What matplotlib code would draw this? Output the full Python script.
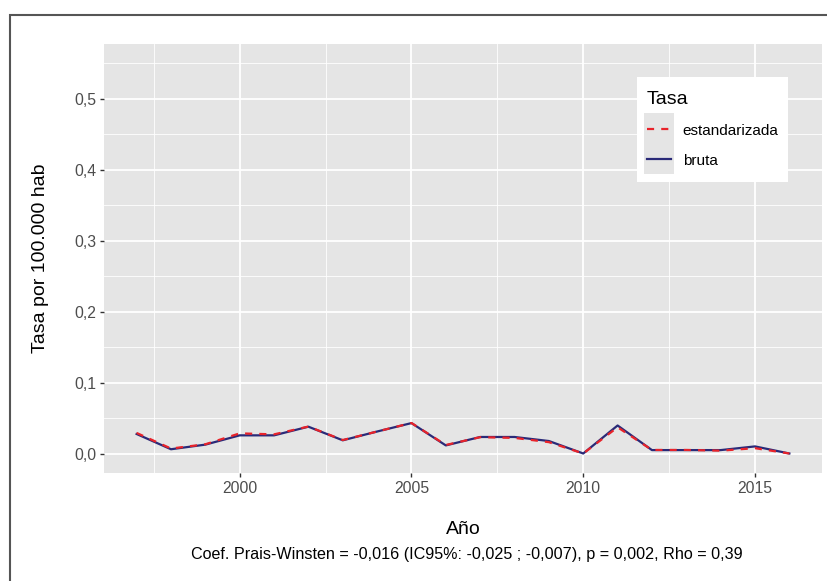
import numpy as np
from matplotlib import pyplot as plt
from matplotlib.patches import Rectangle
from matplotlib.lines import Line2D
from matplotlib.ticker import FixedLocator, FuncFormatter

plt.rcParams['font.family'] = ['Liberation Sans', 'DejaVu Sans']

anios = [1997, 1998, 1999, 2000, 2001, 2002, 2003, 2004, 2005, 2006,
         2007, 2008, 2009, 2010, 2011, 2012, 2013, 2014, 2015, 2016]
tasa_bruta = [0.0275, 0.006, 0.0125, 0.0256, 0.0256, 0.0378, 0.0186, 0.031, 0.0429, 0.0114,
              0.0233, 0.0233, 0.0176, 0.0, 0.0395, 0.0048, 0.0048, 0.0048, 0.010, 0.0]
tasa_estandarizada = [0.029, 0.007, 0.013, 0.0284, 0.027, 0.038, 0.019, 0.031, 0.043, 0.012,
                      0.023, 0.022, 0.016, 0.0, 0.037, 0.005, 0.005, 0.004, 0.0075, 0.0]

ticks_x = [2000, 2005, 2010, 2015]
ticks_y = [0.0, 0.1, 0.2, 0.3, 0.4, 0.5]
pie = "Coef. Prais-Winsten = -0,016 (IC95%: -0,025 ; -0,007), p = 0,002, Rho = 0,39"

col_bruta = "#2a2a78"
col_est = "#e8232a"
guiones = (0, (3.2, 3.2))

fig = plt.figure(figsize=(8.28, 5.81), dpi=100)
W, H = 828, 581
ax = fig.add_axes([104 / W, 1 - 473 / H, (822 - 104) / W, (473 - 44) / H])
ax.set_facecolor("#e5e5e5")
for s in ax.spines.values():
    s.set_visible(False)

ax.plot(anios, tasa_bruta, color=col_bruta, lw=1.6, label="bruta", zorder=3)
ax.plot(anios, tasa_estandarizada, color=col_est, lw=1.6, ls=guiones,
        label="estandarizada", zorder=4)

rango_x = anios[-1] - anios[0]
ax.set_xlim(anios[0] - 0.05 * rango_x, anios[-1] + 0.05 * rango_x)
ax.set_ylim(-0.0275, 0.5775)

ax.xaxis.set_major_locator(FixedLocator(ticks_x))
ax.xaxis.set_minor_locator(FixedLocator([1997.5, 2002.5, 2007.5, 2012.5]))
ax.yaxis.set_major_locator(FixedLocator(ticks_y))
ax.yaxis.set_minor_locator(FixedLocator([0.05, 0.15, 0.25, 0.35, 0.45, 0.55]))
ax.yaxis.set_major_formatter(FuncFormatter(lambda v, p: f"{v:.1f}".replace(".", ",")))

ax.grid(which="major", color="white", lw=1.3)
ax.grid(which="minor", color="white", lw=0.6)
ax.set_axisbelow(True)
ax.tick_params(which="major", length=3, width=1, color="#333333",
               labelsize=11.3, labelcolor="#4d4d4d", pad=2.5)
ax.tick_params(which="minor", length=0)

ax.set_xlabel("Año", fontsize=14)
ax.set_ylabel("Tasa por 100.000 hab", fontsize=14)
ax.xaxis.set_label_coords(0.5, (473 - 529) / 429)
ax.yaxis.set_label_coords((41 - 104) / 718, 0.5)
ax.xaxis.label.set_va("center")
ax.yaxis.label.set_va("center")
fig.text(467 / W, 1 - 555 / H, pie, ha="center", va="center", fontsize=11.65)

# leyenda: fondo blanco y claves sobre gris
handles = [Line2D([], [], color=col_est, lw=1.6, ls=guiones),
           Line2D([], [], color=col_bruta, lw=1.6)]
leg = ax.legend(handles, ["estandarizada", "bruta"], title="Tasa",
                loc="upper left", bbox_to_anchor=(633 / W, 1 - 77 / H),
                bbox_transform=fig.transFigure, frameon=False,
                fontsize=11, title_fontsize=14, handlelength=1.6,
                handletextpad=0.75, labelspacing=1.05, borderpad=0.9,
                borderaxespad=0, alignment="left")
leg.set_zorder(7)
fig.canvas.draw()
r = fig.canvas.get_renderer()
caja = leg.get_window_extent(r)
ax.add_patch(Rectangle((caja.x0 + 4, caja.y0), caja.width - 8, caja.height,
                       transform=None, facecolor="white", edgecolor="none",
                       zorder=5, clip_on=False))
bbs = [h.get_window_extent(r) for h in leg.legend_handles]
x0 = min(b.x0 for b in bbs) - 3
x1 = max(b.x1 for b in bbs) + 3
y0 = min(b.y0 for b in bbs) - 15
y1 = max(b.y1 for b in bbs) + 16
ax.add_patch(Rectangle((x0, y0), x1 - x0, y1 - y0, transform=None,
                       facecolor="#e5e5e5", edgecolor="none", zorder=6,
                       clip_on=False))

# marco exterior
fig.patches.append(Rectangle((10 / W, -0.1), 1.2, 1 - 15 / H + 0.1,
                             transform=fig.transFigure, fill=False,
                             edgecolor="#555555", lw=1.5))

fig.savefig("out.png", dpi=100)
